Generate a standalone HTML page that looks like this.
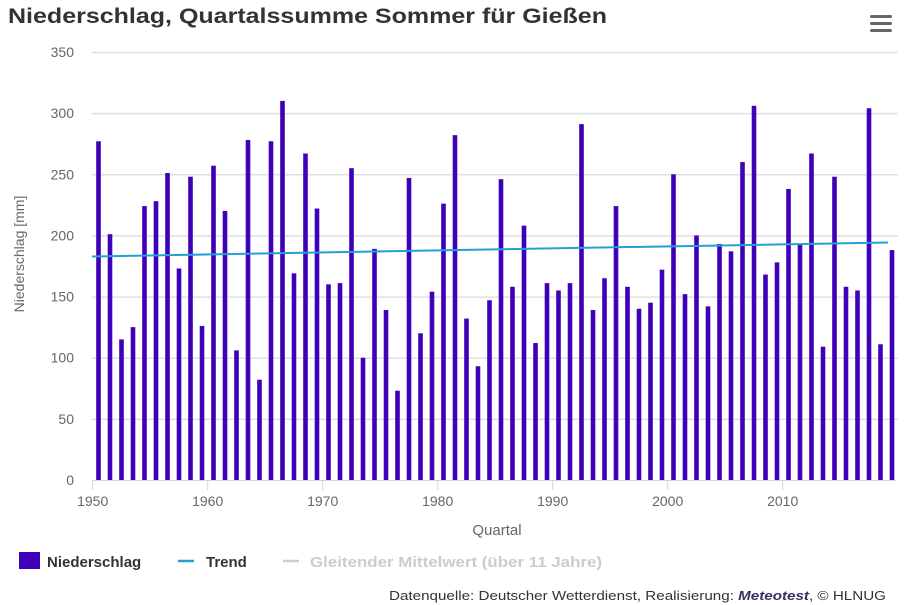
<!DOCTYPE html>
<html><head><meta charset="utf-8"><style>body{margin:0;background:#fff}svg{display:block}</style></head>
<body>
<svg id="s" width="917" height="605" xmlns="http://www.w3.org/2000/svg" font-family="Liberation Sans, sans-serif">
<rect width="917" height="605" fill="#fff"/>
<text x="8" y="23" font-size="21" font-weight="bold" fill="#333" textLength="599" lengthAdjust="spacingAndGlyphs">Niederschlag, Quartalssumme Sommer für Gießen</text>
<g fill="#666"><rect x="870" y="15" width="22" height="3" rx="1.5"/><rect x="870" y="22" width="22" height="3" rx="1.5"/><rect x="870" y="29" width="22" height="3" rx="1.5"/></g>
<g id="grid"></g>
<g id="bars"></g>
<line x1="92" y1="256.5" x2="888" y2="242.5" stroke="#23a0d6" stroke-width="2"/>
<line x1="92" y1="480.5" x2="896" y2="480.5" stroke="#ccd6eb" stroke-width="1"/>
<g id="xt" font-size="14" fill="#666" text-anchor="middle"></g>
<text x="36" y="266" font-size="14" fill="#666" text-anchor="middle" transform="rotate(-90 24 266)">Niederschlag [mm]</text>
<text x="497" y="535" font-size="15" fill="#666" text-anchor="middle">Quartal</text>
<rect x="19" y="552" width="21" height="17" fill="#3e00b8"/>
<text x="47" y="567" font-size="15" font-weight="bold" fill="#333">Niederschlag</text>
<line x1="178" y1="561" x2="194" y2="561" stroke="#23a0d6" stroke-width="2.5"/>
<text x="206" y="567" font-size="15" font-weight="bold" fill="#333">Trend</text>
<line x1="283" y1="561" x2="299" y2="561" stroke="#ccc" stroke-width="2.5"/>
<text x="310" y="567" font-size="15" font-weight="bold" fill="#ccc" textLength="292" lengthAdjust="spacingAndGlyphs">Gleitender Mittelwert (über 11 Jahre)</text>
<text x="886" y="600" font-size="12.5" fill="#333" text-anchor="end" textLength="497" lengthAdjust="spacingAndGlyphs">Datenquelle: Deutscher Wetterdienst, Realisierung: <tspan fill="#336" font-weight="bold" font-style="italic">Meteotest</tspan>, © HLNUG</text>
</svg>
<script>
var v=[277,201,115,125,224,228,251,173,248,126,257,220,106,278,82,277,310,169,267,222,160,161,255,100,189,139,73,247,120,154,226,282,132,93,147,246,158,208,112,161,155,161,291,139,165,224,158,140,145,172,250,152,200,142,193,187,260,306,168,178,238,193,267,109,248,158,155,304,111,188];
var ns="http://www.w3.org/2000/svg";function el(p,t,a,txt){var e=document.createElementNS(ns,t);for(var k in a)e.setAttribute(k,a[k]);if(txt)e.textContent=txt;document.getElementById(p).appendChild(e);}
for(var i=0;i<=7;i++){var y=480-i*50*428/350;if(i>0)el("grid","line",{x1:92,x2:898,y1:y+0.5,y2:y+0.5,stroke:"#e0e0e0","stroke-width":1.5});el("grid","text",{x:74,y:y+5,"font-size":14,fill:"#666","text-anchor":"end"},String(i*50));}
v.forEach(function(d,i){var x=92.7+i*11.5+5.8;var h=d*428/350;el("bars","rect",{x:x-2.3,y:480-h,width:4.6,height:h,fill:"#3e00b8"});});
for(var yr=1950;yr<=2010;yr+=10){var x=92.7+(yr-1950)*11.5;el("xt","line",{x1:x,x2:x,y1:480,y2:490,stroke:"#ccd6eb"});el("xt","text",{x:x,y:506},String(yr));}
</script>
</body></html>
